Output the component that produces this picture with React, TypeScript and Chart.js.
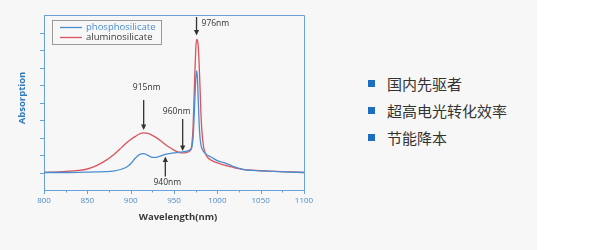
import React, { useEffect, useRef } from "react";
import { Chart, registerables } from "chart.js";

Chart.register(...registerables);

// Absorption spectra of two fibre glass hosts (arbitrary units)
const wavelengths = [
  800, 820, 840, 850, 860, 870, 880, 890, 895, 900, 905, 910, 915, 920, 925, 930, 935, 940, 945, 950,
  955, 960, 965, 968, 970, 971, 972, 973, 974, 975, 976, 977, 978, 979, 980, 981, 982, 984, 987, 990,
  995, 1000, 1005, 1010, 1015, 1020, 1025, 1030, 1040, 1050, 1060, 1075, 1100,
];

const phosphosilicate = [
  0, 0, 0.01, 0.02, 0.03, 0.05, 0.08, 0.2, 0.3, 0.5, 0.8, 1.02, 1.08, 0.98, 0.86, 0.87, 0.95, 1.03, 1.08, 1.12,
  1.15, 1.18, 1.22, 1.28, 1.35, 1.55, 2.0, 2.9, 4.1, 5.2, 5.8, 5.45, 4.1, 2.8, 2.0, 1.6, 1.4, 1.2, 1.05, 0.95,
  0.82, 0.68, 0.6, 0.52, 0.42, 0.32, 0.23, 0.17, 0.12, 0.09, 0.07, 0.04, 0,
];

const aluminosilicate = [
  0, 0.05, 0.12, 0.2, 0.38, 0.65, 1.0, 1.45, 1.68, 1.88, 2.05, 2.2, 2.26, 2.23, 2.12, 1.98, 1.8, 1.6, 1.43, 1.28,
  1.17, 1.12, 1.15, 1.22, 1.4, 1.8, 2.6, 4.0, 5.6, 6.9, 7.6, 7.55, 7.2, 6.2, 4.9, 3.5, 2.5, 1.5, 1.0, 0.8,
  0.65, 0.55, 0.47, 0.4, 0.33, 0.27, 0.22, 0.18, 0.13, 0.1, 0.08, 0.05, 0,
];

const seriesNames = ["phosphosilicate", "aluminosilicate"];
const xMajorTicks = [800, 850, 900, 950, 1000, 1050, 1100];
const xMinorTicks = [825, 875, 925, 975, 1025, 1075];
const yTicks = [0, 1, 2, 3, 4, 5, 6, 7, 8];

// Marked wavelengths and which curve each arrow points at
const markedWavelengths = [915, 960, 940, 976];
const markedSeries = ["aluminosilicate", "aluminosilicate", "phosphosilicate", "aluminosilicate"];

const features = ["国内先驱者", "超高电光转化效率", "节能降本"];

const BLUE = "#4a8ed2";
const RED = "#d9545c";
const AXIS = "#6aa2d8";
const TICK_TEXT = "#4f8bc9";
const DARK = "#3a3a3a";
const FONT = "'Open Sans', sans-serif";

function valueAt(series: string, nm: number) {
  const arr = series === "phosphosilicate" ? phosphosilicate : aluminosilicate;
  const i = wavelengths.indexOf(nm);
  return arr[i];
}

function drawArrow(ctx: CanvasRenderingContext2D, x: number, from: number, tip: number) {
  const dir = tip > from ? 1 : -1;
  ctx.beginPath();
  ctx.moveTo(x, from);
  ctx.lineTo(x, tip - dir * 4);
  ctx.stroke();
  ctx.beginPath();
  ctx.moveTo(x, tip);
  ctx.lineTo(x - 2.6, tip - dir * 5.5);
  ctx.lineTo(x + 2.6, tip - dir * 5.5);
  ctx.closePath();
  ctx.fill();
}

const overlayPlugin = {
  id: "overlay",
  afterDraw(chart: any) {
    const { ctx, chartArea: a, scales } = chart;
    const xs = scales.x;
    const ys = scales.y;
    ctx.save();

    // frame: top and right edges
    ctx.strokeStyle = AXIS;
    ctx.lineWidth = 1;
    ctx.beginPath();
    ctx.moveTo(a.left, a.top + 0.5);
    ctx.lineTo(a.right + 0.5, a.top + 0.5);
    ctx.lineTo(a.right + 0.5, a.bottom);
    ctx.stroke();

    // x tick marks (major + minor)
    ctx.beginPath();
    xMajorTicks.forEach((v) => {
      const px = Math.round(xs.getPixelForValue(v)) + 0.5;
      ctx.moveTo(px, a.bottom);
      ctx.lineTo(px, a.bottom + 4);
    });
    xMinorTicks.forEach((v) => {
      const px = Math.round(xs.getPixelForValue(v)) + 0.5;
      ctx.moveTo(px, a.bottom);
      ctx.lineTo(px, a.bottom + 2.5);
    });
    // y tick marks
    yTicks.forEach((v) => {
      const py = Math.round(ys.getPixelForValue(v)) + 0.5;
      ctx.moveTo(a.left - 4, py);
      ctx.lineTo(a.left, py);
    });
    ctx.stroke();

    // axis titles
    ctx.fillStyle = DARK;
    ctx.font = `bold 9.5px ${FONT}`;
    ctx.textAlign = "center";
    ctx.textBaseline = "middle";
    ctx.fillText("Wavelength(nm)", (a.left + a.right) / 2 + 4, 217);

    ctx.save();
    ctx.translate(22, 98);
    ctx.rotate(-Math.PI / 2);
    ctx.fillStyle = "#2f78c4";
    ctx.fillText("Absorption", 0, 0);
    ctx.restore();

    // peak annotations
    ctx.strokeStyle = "#333";
    ctx.fillStyle = "#333";
    ctx.lineWidth = 1.3;
    ctx.font = `8.5px ${FONT}`;
    markedWavelengths.forEach((nm, i) => {
      const px = xs.getPixelForValue(nm);
      const py = ys.getPixelForValue(valueAt(markedSeries[i], nm));
      const text = `${nm}nm`;
      ctx.fillStyle = "#333";
      if (nm === 915) {
        const tip = py - 3;
        const tail = tip - 30;
        drawArrow(ctx, px, tail, tip);
        ctx.textAlign = "center";
        ctx.fillText(text, px + 3, tail - 12);
      } else if (nm === 960) {
        const tip = py - 2;
        const tail = tip - 32;
        drawArrow(ctx, px, tail, tip);
        ctx.textAlign = "center";
        ctx.fillText(text, px - 6, tail - 7);
      } else if (nm === 940) {
        const tip = py + 2;
        const tail = tip + 20;
        drawArrow(ctx, px, tail, tip);
        ctx.textAlign = "center";
        ctx.fillText(text, px + 2, tail + 6);
      } else {
        const tip = py - 4;
        const tail = a.top + 2;
        drawArrow(ctx, px, tail, tip);
        ctx.textAlign = "left";
        ctx.fillText(text, px + 5, a.top + 8.5);
      }
    });

    // legend box
    ctx.strokeStyle = "#9a9a9a";
    ctx.lineWidth = 1;
    ctx.strokeRect(52.5, 20.5, 109, 24);
    const colors = [BLUE, RED];
    const textColors = [BLUE, DARK];
    ctx.font = `9.5px ${FONT}`;
    ctx.textAlign = "left";
    seriesNames.forEach((name, i) => {
      const ly = 27.5 + i * 10;
      ctx.strokeStyle = colors[i];
      ctx.lineWidth = 1.3;
      ctx.beginPath();
      ctx.moveTo(60, ly);
      ctx.lineTo(82, ly);
      ctx.stroke();
      ctx.fillStyle = textColors[i];
      ctx.fillText(name, 86, ly);
    });

    ctx.restore();
  },
};

function SpectrumChart() {
  const ref = useRef<HTMLCanvasElement | null>(null);
  useEffect(() => {
    if (!ref.current) return;
    const chart = new Chart(ref.current, {
      type: "line",
      data: {
        datasets: [
          {
            label: seriesNames[0],
            data: wavelengths.map((w, i) => ({ x: w, y: phosphosilicate[i] })),
            borderColor: BLUE,
            borderWidth: 1.3,
            pointRadius: 0,
            cubicInterpolationMode: "monotone",
          },
          {
            label: seriesNames[1],
            data: wavelengths.map((w, i) => ({ x: w, y: aluminosilicate[i] })),
            borderColor: RED,
            borderWidth: 1.3,
            pointRadius: 0,
            cubicInterpolationMode: "monotone",
          },
        ],
      },
      options: {
        responsive: false,
        animation: false,
        devicePixelRatio: 1,
        layout: { padding: { left: 0, right: 16, top: 15, bottom: 0 } },
        plugins: { legend: { display: false }, tooltip: { enabled: false } },
        scales: {
          x: {
            type: "linear",
            min: 800,
            max: 1100,
            afterBuildTicks: (scale: any) => {
              scale.ticks = xMajorTicks.map((v) => ({ value: v }));
            },
            afterFit: (scale: any) => {
              scale.height = 60;
            },
            grid: { drawOnChartArea: false, drawTicks: false },
            border: { color: AXIS, width: 1 },
            ticks: {
              padding: 6,
              color: TICK_TEXT,
              font: { family: "Open Sans", size: 8 },
              maxRotation: 0,
              autoSkip: false,
              callback: (v: any) => String(v),
            },
          },
          y: {
            type: "linear",
            min: -1,
            max: 9,
            afterFit: (scale: any) => {
              scale.width = 44;
            },
            grid: { drawOnChartArea: false, drawTicks: false },
            border: { color: AXIS, width: 1 },
            ticks: { display: false },
          },
        },
      },
      plugins: [overlayPlugin],
    } as any);
    return () => chart.destroy();
  }, []);
  return (
    <canvas
      ref={ref}
      width={320}
      height={250}
      style={{ position: "absolute", left: 0, top: 0, width: 320, height: 250 }}
    />
  );
}

export default function App() {
  return (
    <div
      style={{
        position: "fixed",
        left: 0,
        top: 0,
        width: 600,
        height: 250,
        background: "#ffffff",
        overflow: "hidden",
      }}
    >
      <div style={{ position: "absolute", left: 0, top: 0, width: 537, height: 250, background: "#f7f7f7" }} />
      <SpectrumChart />
      {features.map((f, i) => (
        <div
          key={f}
          style={{
            position: "absolute",
            left: 368,
            top: 73 + i * 27,
            height: 20,
            display: "flex",
            alignItems: "center",
            fontFamily: "'Noto Sans CJK SC', sans-serif",
            fontSize: 15,
            color: "#333",
          }}
        >
          <span style={{ width: 7, height: 7, background: "#1b6ec2", display: "inline-block", marginRight: 12 }} />
          <span>{f}</span>
        </div>
      ))}
    </div>
  );
}
